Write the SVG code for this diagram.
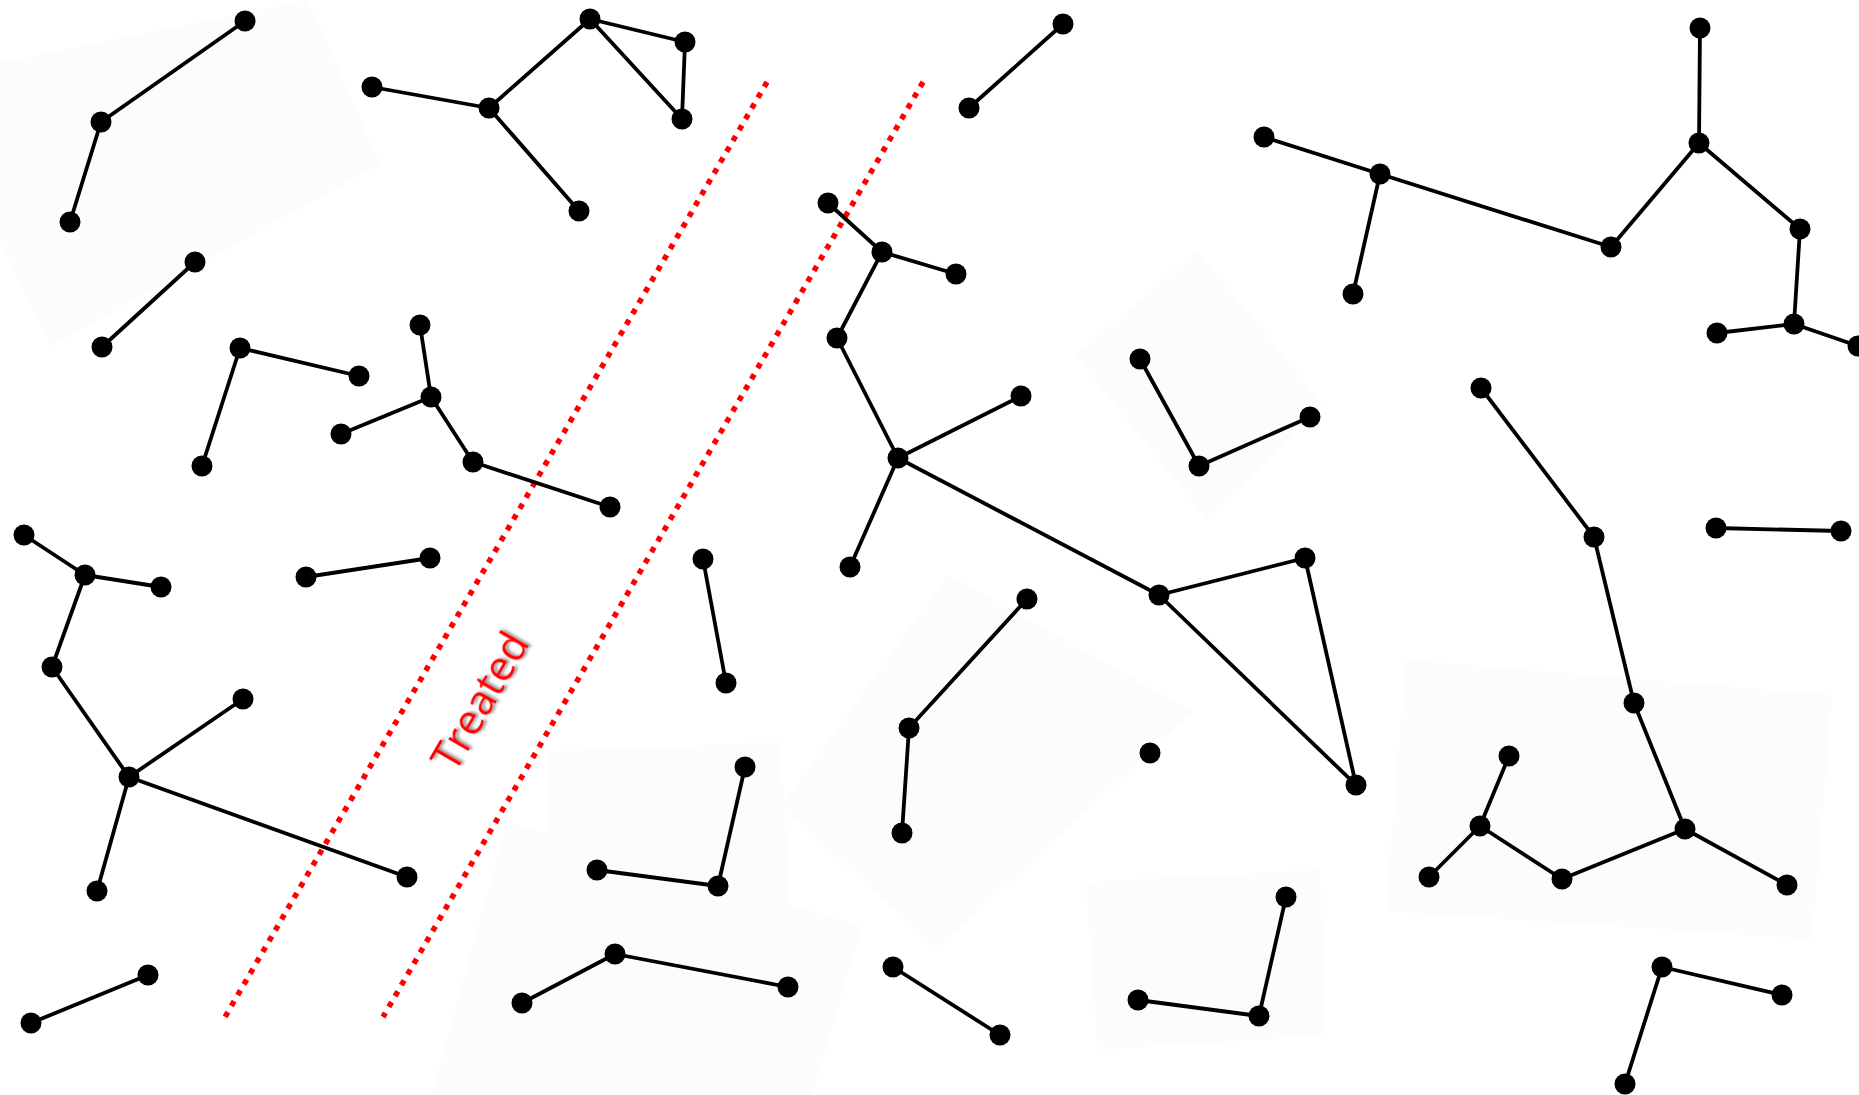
<svg xmlns="http://www.w3.org/2000/svg" width="1859" height="1095" viewBox="0 0 1859 1095">
<defs>
<style>
.e{stroke:#000;stroke-width:3.8;stroke-linecap:round;fill:none}
.n{fill:#000}
.bg{fill:#fcfcfc;stroke:none}
.red{stroke:#ff0000;stroke-width:5.5;stroke-dasharray:5.5 7;fill:none}
.lbl{font-family:"Open Sans","Liberation Sans",sans-serif;font-size:42px;fill:#ff0000}
</style>
<filter id="sh" x="-20%" y="-50%" width="140%" height="200%">
<feDropShadow dx="2" dy="2" stdDeviation="1.5" flood-color="#666" flood-opacity="0.75"/>
</filter>
</defs>
<rect width="1859" height="1095" fill="#fff"/>
<g id="patches">
<polygon class="bg" points="0,63 308,0 380,164 51,346 0,241"/>
<polygon class="bg" points="1197,251 1322,403 1209,522 1076,356"/>
<polygon class="bg" points="948,575 1193,712 937,949 782,806"/>
<polygon class="bg" points="1406,660 1832,695 1812,939 1386,911"/>
<polygon class="bg" points="1086,882 1320,870 1325,1035 1098,1050"/>
<polygon class="bg" points="547,752 780,742 790,905 547,915"/>
<polygon class="bg" points="507,822 862,926 812,1095 432,1095"/>
</g>
<g id="treatment-band">
<line class="red" x1="767" y1="82" x2="225" y2="1017"/>
<line class="red" x1="923" y1="82" x2="383" y2="1017"/>
<text class="lbl" x="478" y="700" text-anchor="middle" dominant-baseline="central" transform="rotate(-60 478 700)" filter="url(#sh)">Treated</text>
</g>
<g id="connectors">
<line class="e" x1="245" y1="21" x2="101" y2="122"/>
<line class="e" x1="101" y1="122" x2="70" y2="222"/>
<line class="e" x1="372" y1="87" x2="489" y2="108"/>
<line class="e" x1="489" y1="108" x2="590" y2="19"/>
<line class="e" x1="590" y1="19" x2="685" y2="42"/>
<line class="e" x1="685" y1="42" x2="682" y2="119"/>
<line class="e" x1="590" y1="19" x2="682" y2="119"/>
<line class="e" x1="489" y1="108" x2="579" y2="211"/>
<line class="e" x1="195" y1="262" x2="102" y2="347"/>
<line class="e" x1="240" y1="348" x2="359" y2="376"/>
<line class="e" x1="240" y1="348" x2="202" y2="466"/>
<line class="e" x1="420" y1="325" x2="431" y2="397"/>
<line class="e" x1="431" y1="397" x2="341" y2="434"/>
<line class="e" x1="431" y1="397" x2="473" y2="462"/>
<line class="e" x1="473" y1="462" x2="610" y2="507"/>
<line class="e" x1="24" y1="535" x2="85" y2="575"/>
<line class="e" x1="85" y1="575" x2="161" y2="587"/>
<line class="e" x1="85" y1="575" x2="52" y2="667"/>
<line class="e" x1="52" y1="667" x2="129" y2="777"/>
<line class="e" x1="129" y1="777" x2="243" y2="699"/>
<line class="e" x1="129" y1="777" x2="97" y2="891"/>
<line class="e" x1="129" y1="777" x2="407" y2="877"/>
<line class="e" x1="306" y1="577" x2="430" y2="558"/>
<line class="e" x1="148" y1="975" x2="31" y2="1023"/>
<line class="e" x1="703" y1="559" x2="726" y2="683"/>
<line class="e" x1="745" y1="767" x2="718" y2="886"/>
<line class="e" x1="718" y1="886" x2="597" y2="870"/>
<line class="e" x1="522" y1="1003" x2="615" y2="954"/>
<line class="e" x1="615" y1="954" x2="788" y2="987"/>
<line class="e" x1="1063" y1="24" x2="969" y2="108"/>
<line class="e" x1="828" y1="203" x2="882" y2="252"/>
<line class="e" x1="882" y1="252" x2="956" y2="274"/>
<line class="e" x1="882" y1="252" x2="837" y2="338"/>
<line class="e" x1="837" y1="338" x2="898" y2="458"/>
<line class="e" x1="898" y1="458" x2="1021" y2="396"/>
<line class="e" x1="898" y1="458" x2="850" y2="567"/>
<line class="e" x1="898" y1="458" x2="1159" y2="595"/>
<line class="e" x1="1159" y1="595" x2="1305" y2="558"/>
<line class="e" x1="1305" y1="558" x2="1356" y2="785"/>
<line class="e" x1="1159" y1="595" x2="1356" y2="785"/>
<line class="e" x1="1140" y1="359" x2="1199" y2="466"/>
<line class="e" x1="1199" y1="466" x2="1310" y2="417"/>
<line class="e" x1="1027" y1="599" x2="909" y2="728"/>
<line class="e" x1="909" y1="728" x2="902" y2="833"/>
<line class="e" x1="893" y1="967" x2="1000" y2="1035"/>
<line class="e" x1="1286" y1="897" x2="1259" y2="1016"/>
<line class="e" x1="1259" y1="1016" x2="1138" y2="1000"/>
<line class="e" x1="1264" y1="137" x2="1380" y2="174"/>
<line class="e" x1="1380" y1="174" x2="1353" y2="294"/>
<line class="e" x1="1380" y1="174" x2="1611" y2="247"/>
<line class="e" x1="1611" y1="247" x2="1699" y2="143"/>
<line class="e" x1="1699" y1="143" x2="1700" y2="28"/>
<line class="e" x1="1699" y1="143" x2="1800" y2="229"/>
<line class="e" x1="1800" y1="229" x2="1794" y2="324"/>
<line class="e" x1="1794" y1="324" x2="1717" y2="333"/>
<line class="e" x1="1794" y1="324" x2="1858" y2="346"/>
<line class="e" x1="1481" y1="388" x2="1594" y2="537"/>
<line class="e" x1="1594" y1="537" x2="1634" y2="703"/>
<line class="e" x1="1634" y1="703" x2="1685" y2="829"/>
<line class="e" x1="1685" y1="829" x2="1562" y2="879"/>
<line class="e" x1="1685" y1="829" x2="1787" y2="885"/>
<line class="e" x1="1562" y1="879" x2="1480" y2="826"/>
<line class="e" x1="1480" y1="826" x2="1509" y2="756"/>
<line class="e" x1="1480" y1="826" x2="1429" y2="877"/>
<line class="e" x1="1716" y1="528" x2="1841" y2="531"/>
<line class="e" x1="1662" y1="967" x2="1782" y2="995"/>
<line class="e" x1="1662" y1="967" x2="1625" y2="1084"/>
</g>
<g id="nodes">
<g id="A1"><circle class="n" cx="245" cy="21" r="10.5"/></g>
<g id="A2"><circle class="n" cx="101" cy="122" r="10.5"/></g>
<g id="A3"><circle class="n" cx="70" cy="222" r="10.5"/></g>
<g id="B1"><circle class="n" cx="372" cy="87" r="10.5"/></g>
<g id="B2"><circle class="n" cx="489" cy="108" r="10.5"/></g>
<g id="B3"><circle class="n" cx="590" cy="19" r="10.5"/></g>
<g id="B4"><circle class="n" cx="685" cy="42" r="10.5"/></g>
<g id="B5"><circle class="n" cx="682" cy="119" r="10.5"/></g>
<g id="B6"><circle class="n" cx="579" cy="211" r="10.5"/></g>
<g id="C1"><circle class="n" cx="195" cy="262" r="10.5"/></g>
<g id="C2"><circle class="n" cx="102" cy="347" r="10.5"/></g>
<g id="D1"><circle class="n" cx="240" cy="348" r="10.5"/></g>
<g id="D2"><circle class="n" cx="359" cy="376" r="10.5"/></g>
<g id="D3"><circle class="n" cx="202" cy="466" r="10.5"/></g>
<g id="E1"><circle class="n" cx="420" cy="325" r="10.5"/></g>
<g id="E2"><circle class="n" cx="431" cy="397" r="10.5"/></g>
<g id="E3"><circle class="n" cx="341" cy="434" r="10.5"/></g>
<g id="E4"><circle class="n" cx="473" cy="462" r="10.5"/></g>
<g id="E5"><circle class="n" cx="610" cy="507" r="10.5"/></g>
<g id="F1"><circle class="n" cx="24" cy="535" r="10.5"/></g>
<g id="F2"><circle class="n" cx="85" cy="575" r="10.5"/></g>
<g id="F3"><circle class="n" cx="161" cy="587" r="10.5"/></g>
<g id="F4"><circle class="n" cx="52" cy="667" r="10.5"/></g>
<g id="F5"><circle class="n" cx="129" cy="777" r="10.5"/></g>
<g id="F6"><circle class="n" cx="243" cy="699" r="10.5"/></g>
<g id="F7"><circle class="n" cx="97" cy="891" r="10.5"/></g>
<g id="F8"><circle class="n" cx="407" cy="877" r="10.5"/></g>
<g id="G1"><circle class="n" cx="306" cy="577" r="10.5"/></g>
<g id="G2"><circle class="n" cx="430" cy="558" r="10.5"/></g>
<g id="H1"><circle class="n" cx="148" cy="975" r="10.5"/></g>
<g id="H2"><circle class="n" cx="31" cy="1023" r="10.5"/></g>
<g id="I1"><circle class="n" cx="703" cy="559" r="10.5"/></g>
<g id="I2"><circle class="n" cx="726" cy="683" r="10.5"/></g>
<g id="J1"><circle class="n" cx="745" cy="767" r="10.5"/></g>
<g id="J2"><circle class="n" cx="718" cy="886" r="10.5"/></g>
<g id="J3"><circle class="n" cx="597" cy="870" r="10.5"/></g>
<g id="K1"><circle class="n" cx="522" cy="1003" r="10.5"/></g>
<g id="K2"><circle class="n" cx="615" cy="954" r="10.5"/></g>
<g id="K3"><circle class="n" cx="788" cy="987" r="10.5"/></g>
<g id="L1"><circle class="n" cx="1063" cy="24" r="10.5"/></g>
<g id="L2"><circle class="n" cx="969" cy="108" r="10.5"/></g>
<g id="M1"><circle class="n" cx="828" cy="203" r="10.5"/></g>
<g id="M2"><circle class="n" cx="882" cy="252" r="10.5"/></g>
<g id="M3"><circle class="n" cx="956" cy="274" r="10.5"/></g>
<g id="M4"><circle class="n" cx="837" cy="338" r="10.5"/></g>
<g id="M5"><circle class="n" cx="898" cy="458" r="10.5"/></g>
<g id="M6"><circle class="n" cx="1021" cy="396" r="10.5"/></g>
<g id="M7"><circle class="n" cx="850" cy="567" r="10.5"/></g>
<g id="M8"><circle class="n" cx="1159" cy="595" r="10.5"/></g>
<g id="M9"><circle class="n" cx="1305" cy="558" r="10.5"/></g>
<g id="M10"><circle class="n" cx="1356" cy="785" r="10.5"/></g>
<g id="N1"><circle class="n" cx="1140" cy="359" r="10.5"/></g>
<g id="N2"><circle class="n" cx="1199" cy="466" r="10.5"/></g>
<g id="N3"><circle class="n" cx="1310" cy="417" r="10.5"/></g>
<g id="O1"><circle class="n" cx="1027" cy="599" r="10.5"/></g>
<g id="O2"><circle class="n" cx="909" cy="728" r="10.5"/></g>
<g id="O3"><circle class="n" cx="902" cy="833" r="10.5"/></g>
<g id="P1"><circle class="n" cx="1150" cy="753" r="10.5"/></g>
<g id="Q1"><circle class="n" cx="893" cy="967" r="10.5"/></g>
<g id="Q2"><circle class="n" cx="1000" cy="1035" r="10.5"/></g>
<g id="R1"><circle class="n" cx="1286" cy="897" r="10.5"/></g>
<g id="R2"><circle class="n" cx="1259" cy="1016" r="10.5"/></g>
<g id="R3"><circle class="n" cx="1138" cy="1000" r="10.5"/></g>
<g id="S1"><circle class="n" cx="1264" cy="137" r="10.5"/></g>
<g id="S2"><circle class="n" cx="1380" cy="174" r="10.5"/></g>
<g id="S3"><circle class="n" cx="1353" cy="294" r="10.5"/></g>
<g id="S4"><circle class="n" cx="1611" cy="247" r="10.5"/></g>
<g id="S5"><circle class="n" cx="1699" cy="143" r="10.5"/></g>
<g id="S6"><circle class="n" cx="1700" cy="28" r="10.5"/></g>
<g id="S7"><circle class="n" cx="1800" cy="229" r="10.5"/></g>
<g id="S8"><circle class="n" cx="1794" cy="324" r="10.5"/></g>
<g id="S9"><circle class="n" cx="1717" cy="333" r="10.5"/></g>
<g id="S10"><circle class="n" cx="1858" cy="346" r="10.5"/></g>
<g id="T1"><circle class="n" cx="1481" cy="388" r="10.5"/></g>
<g id="T2"><circle class="n" cx="1594" cy="537" r="10.5"/></g>
<g id="T3"><circle class="n" cx="1634" cy="703" r="10.5"/></g>
<g id="T4"><circle class="n" cx="1685" cy="829" r="10.5"/></g>
<g id="T5"><circle class="n" cx="1562" cy="879" r="10.5"/></g>
<g id="T6"><circle class="n" cx="1480" cy="826" r="10.5"/></g>
<g id="T7"><circle class="n" cx="1509" cy="756" r="10.5"/></g>
<g id="T8"><circle class="n" cx="1429" cy="877" r="10.5"/></g>
<g id="T9"><circle class="n" cx="1787" cy="885" r="10.5"/></g>
<g id="U1"><circle class="n" cx="1716" cy="528" r="10.5"/></g>
<g id="U2"><circle class="n" cx="1841" cy="531" r="10.5"/></g>
<g id="V1"><circle class="n" cx="1662" cy="967" r="10.5"/></g>
<g id="V2"><circle class="n" cx="1782" cy="995" r="10.5"/></g>
<g id="V3"><circle class="n" cx="1625" cy="1084" r="10.5"/></g>
</g>
</svg>
